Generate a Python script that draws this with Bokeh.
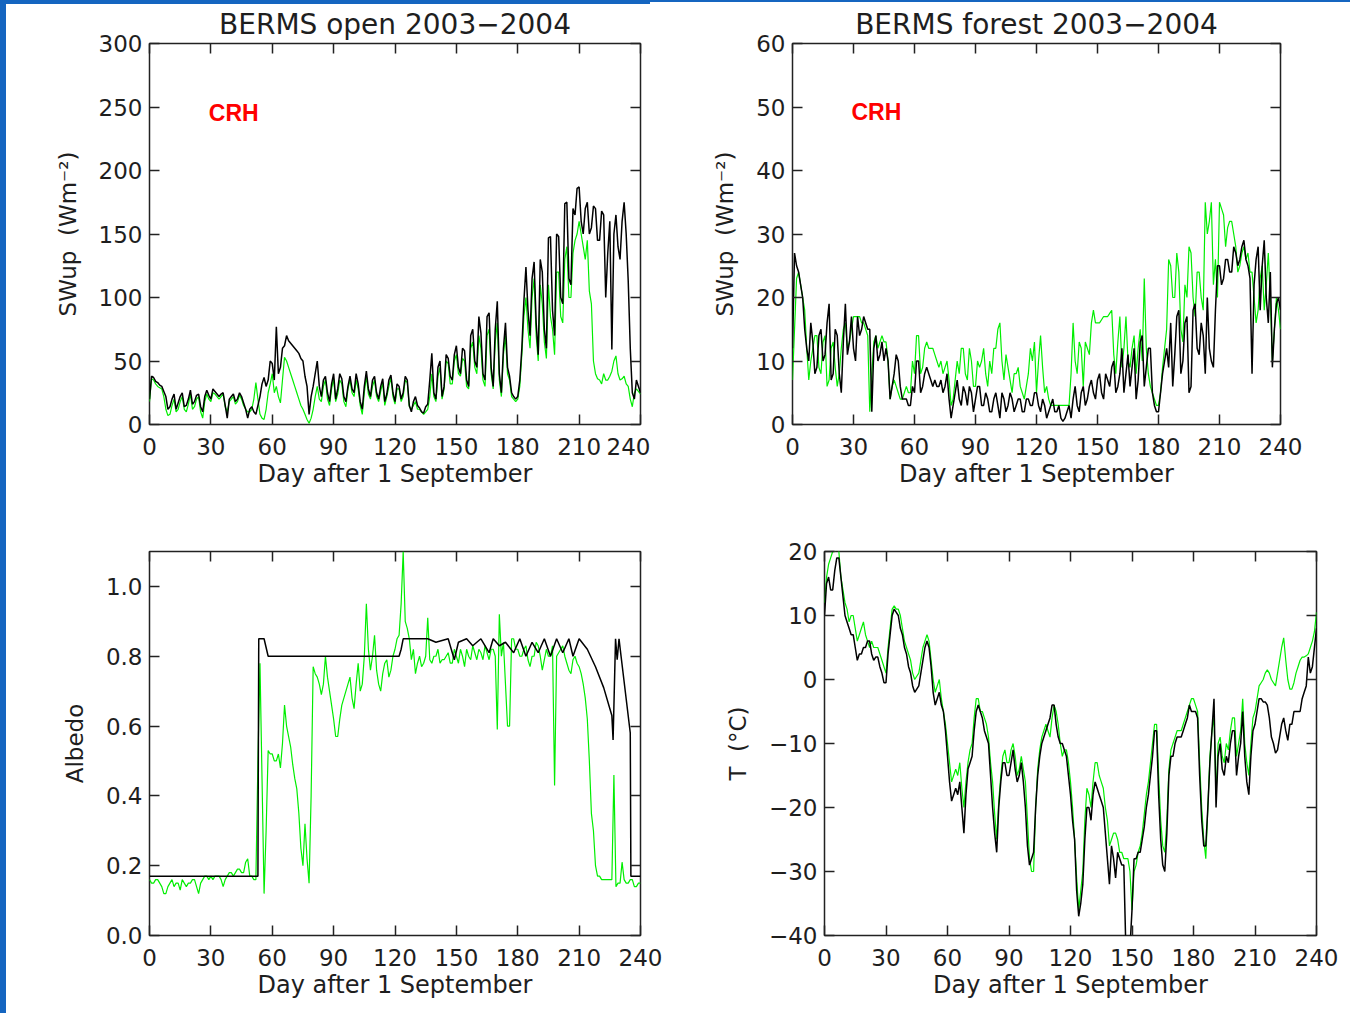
from bokeh.plotting import figure
from bokeh.layouts import column, row
from bokeh.models import Range1d, FixedTicker, LinearAxis, Label, CustomJSTickFormatter
from bokeh.embed import file_html
from bokeh.resources import INLINE

# ---------------- data (daily) ----------------
days = list(range(0, 241))
x_ticks = [0, 30, 60, 90, 120, 150, 180, 210, 240]

# BERMS open, SWup (W m-2)
open_swup_black = [
    20, 38, 37, 34, 33, 31, 30, 26, 22, 12,
    14, 20, 24, 12, 17, 22, 25, 14, 15, 20,
    27, 16, 18, 23, 24, 14, 10, 22, 27, 23,
    20, 28, 26, 24, 22, 24, 25, 15, 5, 20,
    22, 24, 18, 20, 25, 22, 17, 12, 5, 12,
    14, 10, 8, 15, 22, 32, 37, 30, 35, 50,
    48, 35, 77, 40, 45, 60, 62, 70, 66, 64,
    62, 60, 58, 56, 52, 50, 38, 30, 8, 22,
    30, 40, 50, 30, 22, 35, 38, 25, 18, 32,
    40, 20, 28, 40, 36, 22, 18, 30, 38, 28,
    25, 40, 32, 18, 12, 30, 42, 28, 22, 35,
    38, 25, 20, 30, 36, 18, 24, 35, 39, 25,
    18, 32, 30, 20, 25, 38, 35, 15, 10, 18,
    22, 15, 13, 10, 9, 14, 16, 35, 56, 25,
    20, 45, 50, 22, 30, 55, 52, 38, 35, 55,
    62, 45, 40, 60, 58, 35, 30, 70, 75, 50,
    45, 85, 72, 40, 35, 85, 88, 45, 30, 75,
    97, 40, 25, 60, 80, 45, 38, 25, 22, 20,
    22, 35, 60, 97, 124, 90, 70, 115, 128, 80,
    55, 130, 120, 75, 60, 147, 148, 90, 70, 150,
    148, 100, 95, 174, 175, 115, 110, 170, 165, 186,
    187, 160, 150, 170, 175, 150, 155, 172, 170, 145,
    145, 168, 165, 100, 135, 160, 59, 150, 165, 140,
    130, 160, 175, 150, 113, 60, 25, 20, 35, 30,
    25]
open_swup_green = [
    18, 36, 35, 32, 30, 29, 28, 22, 12, 7,
    8, 15, 20, 10, 12, 18, 22, 12, 10, 16,
    24, 12, 14, 20, 22, 10, 5, 18, 24, 20,
    18, 25, 24, 22, 20, 22, 24, 14, 10, 18,
    20, 22, 16, 18, 23, 20, 15, 12, 10, 10,
    12, 20, 33, 20, 8, 5, 4, 12, 25, 32,
    40, 25, 30, 22, 17, 35, 53, 50, 45, 40,
    35, 30, 25, 20, 15, 12, 8, 4, 1, 5,
    12, 22, 30, 20, 18, 30, 35, 20, 15, 28,
    36, 18, 24, 35, 32, 18, 14, 28, 35, 25,
    22, 35, 28, 15, 8, 25, 38, 24, 20, 30,
    35, 22, 18, 26, 33, 15, 22, 30, 37, 22,
    16, 28, 28, 18, 22, 35, 33, 14, 12, 15,
    18, 12, 12, 10, 8, 10, 12, 22, 40, 22,
    18, 38, 45, 20, 28, 50, 48, 32, 32, 50,
    55, 40, 38, 52, 50, 30, 28, 60, 65, 45,
    40, 70, 60, 35, 30, 70, 75, 40, 28, 65,
    80, 35, 22, 55, 70, 40, 35, 22, 20, 18,
    20, 30, 55, 85, 100, 75, 60, 100, 115, 70,
    50, 110, 95, 65, 52, 110, 85, 75, 55, 120,
    120, 85, 80, 130, 140, 100, 100, 135, 145, 150,
    160, 150, 140, 130, 145, 105, 95, 50, 40, 36,
    35, 32, 40, 35, 35, 38, 42, 50, 54, 40,
    35, 36, 38, 32, 30, 20, 14, 25, 28, 26,
    24]

# BERMS forest, SWup (W m-2)
forest_swup_black = [
    12, 27, 25, 24, 22, 20, 15, 12, 10, 16,
    13, 8, 9, 14, 15, 10, 11, 16, 19, 7,
    8, 15, 14, 8, 5, 13, 19, 11, 13, 17,
    12, 10, 17, 14, 15, 17, 16, 15, 15, 2,
    12, 14, 10, 11, 13, 10, 12, 10, 4, 6,
    8, 11, 10, 6, 4, 4, 4, 3, 3, 6,
    5, 10, 10, 5, 6, 8, 9, 8, 7, 6,
    7, 6, 6, 7, 5, 6, 8, 4, 1, 3,
    5, 7, 4, 3, 6, 5, 3, 6, 5, 2,
    4, 6, 6, 3, 3, 5, 4, 2, 2, 4,
    5, 3, 1, 5, 4, 2, 3, 5, 4, 2,
    3, 4, 4, 2, 2, 4, 4, 3, 3, 5,
    5, 3, 2, 4, 3, 1, 2, 3, 4, 2,
    2, 3, 1, 0.5, 1, 2, 3, 1, 4, 6,
    3, 2, 5, 6, 3, 4, 6, 7, 5, 4,
    7, 8, 5, 4, 8, 7, 6, 9, 10, 5,
    6, 8, 12, 5, 8, 11, 6, 9, 12, 4,
    7, 13, 14, 6, 9, 12, 12, 5, 3, 2,
    2, 5, 8, 10, 12, 9, 16, 6, 11, 17,
    18, 8, 10, 16, 17, 5, 6, 18, 19, 12,
    11, 16, 14, 8, 20, 12, 10, 9, 18, 25,
    25, 22, 23, 26, 26, 24, 24, 28, 27, 25,
    26, 28, 29, 26, 25, 23, 8, 22, 26, 28,
    18, 25, 29, 20, 16, 24, 9, 15, 19, 20,
    18]
forest_swup_green = [
    7, 15, 23, 24, 22, 20, 18, 12, 7, 10,
    12, 14, 14, 9, 8, 13, 14, 6, 7, 12,
    13, 9, 6, 8, 12, 15, 16, 12, 13, 15,
    17, 17, 17, 17, 16, 16, 15, 14, 2, 8,
    13, 14, 12, 13, 14, 13, 13, 10, 4, 6,
    7, 6, 5, 4, 4, 5, 6, 5, 5, 10,
    8, 14, 14, 8, 9, 12, 13, 12, 12, 12,
    11, 10, 9, 10, 8, 9, 10, 7, 3, 4,
    7, 10, 8, 12, 12, 8, 7, 12, 10, 6,
    6, 10, 9, 10, 12, 8, 6, 10, 8, 12,
    12, 15, 16, 10, 7, 11, 9, 7, 5, 8,
    8, 9, 6, 5, 4, 6, 8, 12, 10, 13,
    5, 10, 14, 9, 5, 6, 4, 3, 3, 3,
    3, 3, 3, 3, 3, 3, 3, 8, 16, 10,
    8, 13, 12, 6, 13, 12, 11, 16, 18, 16,
    16, 16, 16.5, 17, 17, 17, 17.5, 18, 11, 8,
    13, 17, 9, 12, 17, 10, 9, 12, 14, 8,
    12, 15, 10, 23, 12, 8, 6, 5, 4, 3,
    3, 5, 9, 12, 15, 26, 25, 20, 20, 27,
    24, 15, 13, 22, 20, 28, 27, 20, 17, 24,
    24, 20, 18, 35, 30, 32, 35, 22, 26, 20,
    35, 34, 33, 28, 31, 32, 32, 30, 28, 24,
    25, 27, 28, 26, 27, 24, 24, 20, 16, 18,
    23, 25, 18, 22, 27, 20, 10, 15, 20, 18,
    15]

# Albedo (open site)
albedo_green = [
    0.16, 0.15, 0.15, 0.16, 0.16, 0.15, 0.14, 0.12, 0.12, 0.14,
    0.15, 0.16, 0.14, 0.15, 0.15, 0.13, 0.16, 0.15, 0.14, 0.15,
    0.15, 0.16, 0.16, 0.14, 0.12, 0.15, 0.16, 0.17, 0.17, 0.16,
    0.17, 0.16, 0.17, 0.17, 0.17, 0.16, 0.14, 0.16, 0.17, 0.18,
    0.18, 0.17, 0.18, 0.19, 0.19, 0.18, 0.18, 0.21, 0.22, 0.17,
    0.17, 0.16, 0.16, 0.50, 0.78, 0.45, 0.12, 0.30, 0.53, 0.52,
    0.52, 0.50, 0.50, 0.52, 0.48, 0.55, 0.66, 0.60, 0.57, 0.54,
    0.49, 0.45, 0.42, 0.35, 0.25, 0.20, 0.32, 0.22, 0.15, 0.40,
    0.77, 0.75, 0.74, 0.72, 0.69, 0.72, 0.80, 0.74, 0.70, 0.66,
    0.62, 0.57, 0.57, 0.62, 0.66, 0.68, 0.70, 0.72, 0.74, 0.68,
    0.65, 0.72, 0.78, 0.70, 0.72, 0.80, 0.95, 0.82, 0.76, 0.80,
    0.86, 0.76, 0.72, 0.70, 0.75, 0.78, 0.79, 0.74, 0.76, 0.80,
    0.82, 0.85, 0.86, 0.95, 1.10, 0.90, 0.88, 0.85, 0.79, 0.82,
    0.75, 0.78, 0.80, 0.77, 0.78, 0.80, 0.91, 0.79, 0.78, 0.80,
    0.80, 0.82, 0.78, 0.79, 0.79, 0.80, 0.81, 0.78, 0.78, 0.82,
    0.80, 0.78, 0.82, 0.80, 0.77, 0.82, 0.80, 0.79, 0.83, 0.81,
    0.79, 0.82, 0.81, 0.79, 0.83, 0.81, 0.79, 0.82, 0.82, 0.80,
    0.59, 0.92, 0.80, 0.84, 0.72, 0.60, 0.60, 0.85, 0.85, 0.82,
    0.82, 0.80, 0.80, 0.82, 0.83, 0.79, 0.77, 0.80, 0.80, 0.84,
    0.83, 0.80, 0.76, 0.79, 0.82, 0.80, 0.80, 0.83, 0.43, 0.80,
    0.81, 0.82, 0.83, 0.80, 0.78, 0.76, 0.75, 0.79, 0.80, 0.78,
    0.77, 0.75, 0.72, 0.68, 0.62, 0.50, 0.35, 0.30, 0.20, 0.17,
    0.17, 0.16, 0.16, 0.16, 0.16, 0.16, 0.16, 0.46, 0.14, 0.15,
    0.15, 0.21, 0.16, 0.15, 0.15, 0.16, 0.16, 0.14, 0.14, 0.15,
    0.15]
albedo_black_days = [
    0, 53, 53.4, 56, 58, 122, 123, 124, 136, 140,
    146, 149, 151, 155, 158, 162, 166, 168, 171, 174,
    178, 181, 184, 187, 190, 193, 196, 199, 202, 205,
    207, 210, 214, 218, 222, 226, 226.6, 227.8, 228.6, 229.5,
    230.5, 235, 235.3, 240]
albedo_black = [
    0.17, 0.17, 0.85, 0.85, 0.80, 0.80, 0.82, 0.85, 0.85, 0.84,
    0.85, 0.79, 0.84, 0.85, 0.83, 0.85, 0.81, 0.85, 0.83, 0.84,
    0.81, 0.85, 0.80, 0.84, 0.81, 0.85, 0.80, 0.85, 0.81, 0.85,
    0.80, 0.85, 0.82, 0.77, 0.71, 0.63, 0.56, 0.85, 0.79, 0.85,
    0.80, 0.58, 0.17, 0.17]

# Air temperature (deg C)
temp_black = [
    10, 15, 16, 14, 14, 17, 19, 19, 16, 13,
    10, 9, 8, 7, 7, 5, 3, 4, 4, 5,
    5, 6, 6, 4, 3, 3.5, 3.5, 2, 1, -0.5,
    -0.5, 4, 7, 10, 11, 10.5, 10, 8, 7, 5,
    4, 2, 1, -1, -2, -1.5, -1, 1, 3, 5,
    6, 5, 2, -2, -4, -3, -2, -4, -5, -8,
    -12, -16, -19, -18, -17, -18, -16, -20, -24, -18,
    -14, -13, -12, -8, -5, -4, -5, -6, -8, -9,
    -10, -15, -20, -24, -27, -20, -16, -13, -13, -15,
    -15, -13, -11, -14, -16, -15, -13, -16, -20, -26,
    -29, -28, -27, -20, -15, -12, -10, -9, -8, -7,
    -6, -4, -4, -7, -9, -10, -10, -11, -12, -15,
    -18, -22, -25, -33, -37, -35, -32, -25, -20, -20,
    -22, -18, -16, -17, -18, -19, -20, -24, -28, -32,
    -26, -28, -31, -27, -28, -29, -29, -42, -42, -42,
    -36, -28, -28, -27, -27, -25, -23, -20, -18, -15,
    -12, -8, -8, -18, -25, -29, -30, -24, -15, -12,
    -12, -10, -9, -9, -9, -8, -7, -6, -4, -5,
    -5, -5, -6, -15, -22, -26, -26, -20, -13, -8,
    -3, -20, -12, -10, -14, -15, -12, -13, -10, -8,
    -8, -15, -12, -10, -5, -12, -16, -18, -12, -8,
    -7, -5, -3, -3, -3.5, -3.5, -4, -6, -9, -10,
    -11.5, -11, -9, -7, -6, -8, -9.5, -7, -7, -5,
    -5, -5, -5, -3, -2, -1, 3.5, 1, 2, 5,
    8]
temp_green = [
    12, 16, 18, 19, 20, 20, 20.5, 20, 16, 14,
    12, 11, 9, 10, 10, 8, 6, 7, 8, 9,
    7, 6, 5, 6, 5, 5, 5, 4, 3, 2,
    1, 5, 8, 11, 11.5, 11, 11, 10, 8, 6,
    5, 4, 3, 1, 0, 0.5, 1, 3, 5, 6,
    7, 6, 3, 0, -2, -1, 0, -3, -5, -7,
    -10, -13, -16, -15, -14, -15, -13, -17, -20, -16,
    -13, -11, -10, -6, -3, -3, -5, -5, -6, -7,
    -9, -13, -16, -21, -25, -19, -15, -12, -11, -13,
    -13, -11, -10, -12, -15, -14, -12, -14, -16, -22,
    -28, -30, -30, -20, -14, -11, -9, -8, -7, -8,
    -9, -6, -4, -5, -7, -10, -12, -11, -11, -13,
    -16, -20, -25, -31, -36, -33, -30, -22, -17, -18,
    -20, -16, -13, -13, -15, -16, -17, -20, -22, -26,
    -25, -24, -24, -25, -27, -27, -28, -28, -28, -30,
    -36, -30, -29, -27, -26, -24, -21, -18, -16, -13,
    -10, -7, -7, -15, -22, -26, -27, -22, -14, -11,
    -10, -9, -8, -8, -8, -7, -6, -5, -4, -3,
    -3, -4, -5, -13, -20, -25, -28, -20, -12, -8,
    -6, -18, -10, -9, -12, -13, -10, -11, -8, -6,
    -6, -12, -10, -8, -3, -10, -13, -15, -10, -6,
    -5, -3, -1, -0.5, 0, 1, 1.5, 1, 0, -0.5,
    -1, 1, 3, 5, 6.5, 3, 0, -1.5, -1.5, -0.5,
    1, 2, 3, 3.5, 3.5, 3.7, 4, 5, 6, 7.5,
    10.5]

swup_open_ticks = [0, 50, 100, 150, 200, 250, 300]
swup_forest_ticks = [0, 10, 20, 30, 40, 50, 60]
albedo_ticks = [0.0, 0.2, 0.4, 0.6, 0.8, 1.0]
temp_ticks = [-40, -30, -20, -10, 0, 10, 20]

# ---------------- styling ----------------
FONT = "DejaVu Sans"
TXT = "#1e1e1e"
GREEN = "#00ee00"
BLACK = "#000000"
BLUE = "#1565c0"
INT_FMT = "return tick < 0 ? '\u2212' + Math.abs(tick) : String(tick);"
DEC_FMT = "return tick.toFixed(1);"
NO_FMT = "return '';"
NB = "\u00a0"


def style_axis(ax, ticks, code, size="23px"):
    ax.ticker = FixedTicker(ticks=ticks)
    ax.axis_line_color = None
    ax.major_tick_in = 10
    ax.major_tick_out = 0
    ax.major_tick_line_color = "#222222"
    ax.major_tick_line_width = 1.5
    ax.minor_tick_line_color = None
    ax.major_label_text_font = FONT
    ax.major_label_text_font_size = size
    ax.major_label_text_color = TXT
    ax.formatter = CustomJSTickFormatter(code=code)


def make_panel(width, height, mbl, mbr, mbt, mbb, yr, yticks, yfmt, ylabel, title=""):
    p = figure(width=width, height=height, x_range=Range1d(0, 240), y_range=Range1d(yr[0], yr[1]),
               output_backend="svg", toolbar_location=None, title=title,
               min_border_left=mbl, min_border_right=mbr, min_border_top=mbt, min_border_bottom=mbb)
    p.xgrid.grid_line_color = None
    p.ygrid.grid_line_color = None
    p.outline_line_color = "#222222"
    p.outline_line_width = 1.5
    p.background_fill_color = "white"
    p.border_fill_alpha = 0

    p.title.align = "center"
    p.title.text_font = FONT
    p.title.text_font_size = "28px"
    p.title.text_font_style = "normal"
    p.title.text_color = TXT
    p.title.standoff = 6

    xa = p.xaxis[0]
    style_axis(xa, x_ticks, INT_FMT)
    xa.major_label_standoff = 13
    xa.axis_label = "Day after 1 September"
    xa.axis_label_standoff = 2
    xa.axis_label_text_font = FONT
    xa.axis_label_text_font_size = "24px"
    xa.axis_label_text_font_style = "normal"
    xa.axis_label_text_color = TXT

    ya = p.yaxis[0]
    style_axis(ya, yticks, yfmt)
    ya.major_label_standoff = 7
    ya.axis_label = ylabel
    ya.axis_label_standoff = 15
    ya.axis_label_text_font = FONT
    ya.axis_label_text_font_size = "23px"
    ya.axis_label_text_font_style = "normal"
    ya.axis_label_text_color = TXT

    top = LinearAxis()
    style_axis(top, x_ticks, NO_FMT, "0px")
    top.major_label_standoff = 0
    p.add_layout(top, "above")
    right = LinearAxis()
    style_axis(right, yticks, NO_FMT, "0px")
    right.major_label_standoff = 0
    p.add_layout(right, "right")
    return p


swup_label = "SWup" + NB + NB + "(Wm\u207b\u00b2)"

# top-left: open site SWup
p1 = make_panel(650, 508, 149, 10, 43, 80, (0, 300), swup_open_ticks, INT_FMT,
                swup_label, "BERMS open 2003\u22122004")
p1.line(days, open_swup_green, line_color=GREEN, line_width=1.2)
p1.line(days, open_swup_black, line_color=BLACK, line_width=1.5)
p1.add_layout(Label(x=29, y=245, text="CRH", text_color="#ff0000", text_font="Liberation Sans",
                    text_font_style="bold", text_font_size="23px", text_baseline="alphabetic"))

# top-right: forest site SWup
p2 = make_panel(700, 508, 142, 70, 43, 84, (0, 60), swup_forest_ticks, INT_FMT,
                swup_label, "BERMS forest 2003\u22122004")
p2.line(days, forest_swup_green, line_color=GREEN, line_width=1.2)
p2.line(days, forest_swup_black, line_color=BLACK, line_width=1.5)
p2.add_layout(Label(x=29, y=49.2, text="CRH", text_color="#ff0000", text_font="Liberation Sans",
                    text_font_style="bold", text_font_size="23px", text_baseline="alphabetic"))

# bottom-left: albedo
p3 = make_panel(668, 505, 149, 28, 43, 78, (0, 1.1), albedo_ticks, DEC_FMT, "Albedo")
p3.line(days, albedo_green, line_color=GREEN, line_width=1.2)
p3.line(albedo_black_days, albedo_black, line_color=BLACK, line_width=1.5)

# bottom-right: temperature
p4 = make_panel(682, 505, 156, 34, 43, 78, (-40, 20), temp_ticks, INT_FMT, "T" + NB + NB + "(\u00b0C)")
p4.line(days, temp_green, line_color=GREEN, line_width=1.2)
p4.line(days, temp_black, line_color=BLACK, line_width=1.5)

page_bg = ("linear-gradient(%s,%s) 0 0 / 6px 100%% no-repeat, "
           "linear-gradient(%s,%s) 0 0 / 650px 4px no-repeat, "
           "linear-gradient(%s,%s) 650px 0 / 100%% 2px no-repeat, white") % ((BLUE,) * 6)
layout = column(row(p1, p2), row(p3, p4), styles={"background": page_bg})

open("out.html", "w", encoding="utf-8").write(file_html(layout, INLINE))
